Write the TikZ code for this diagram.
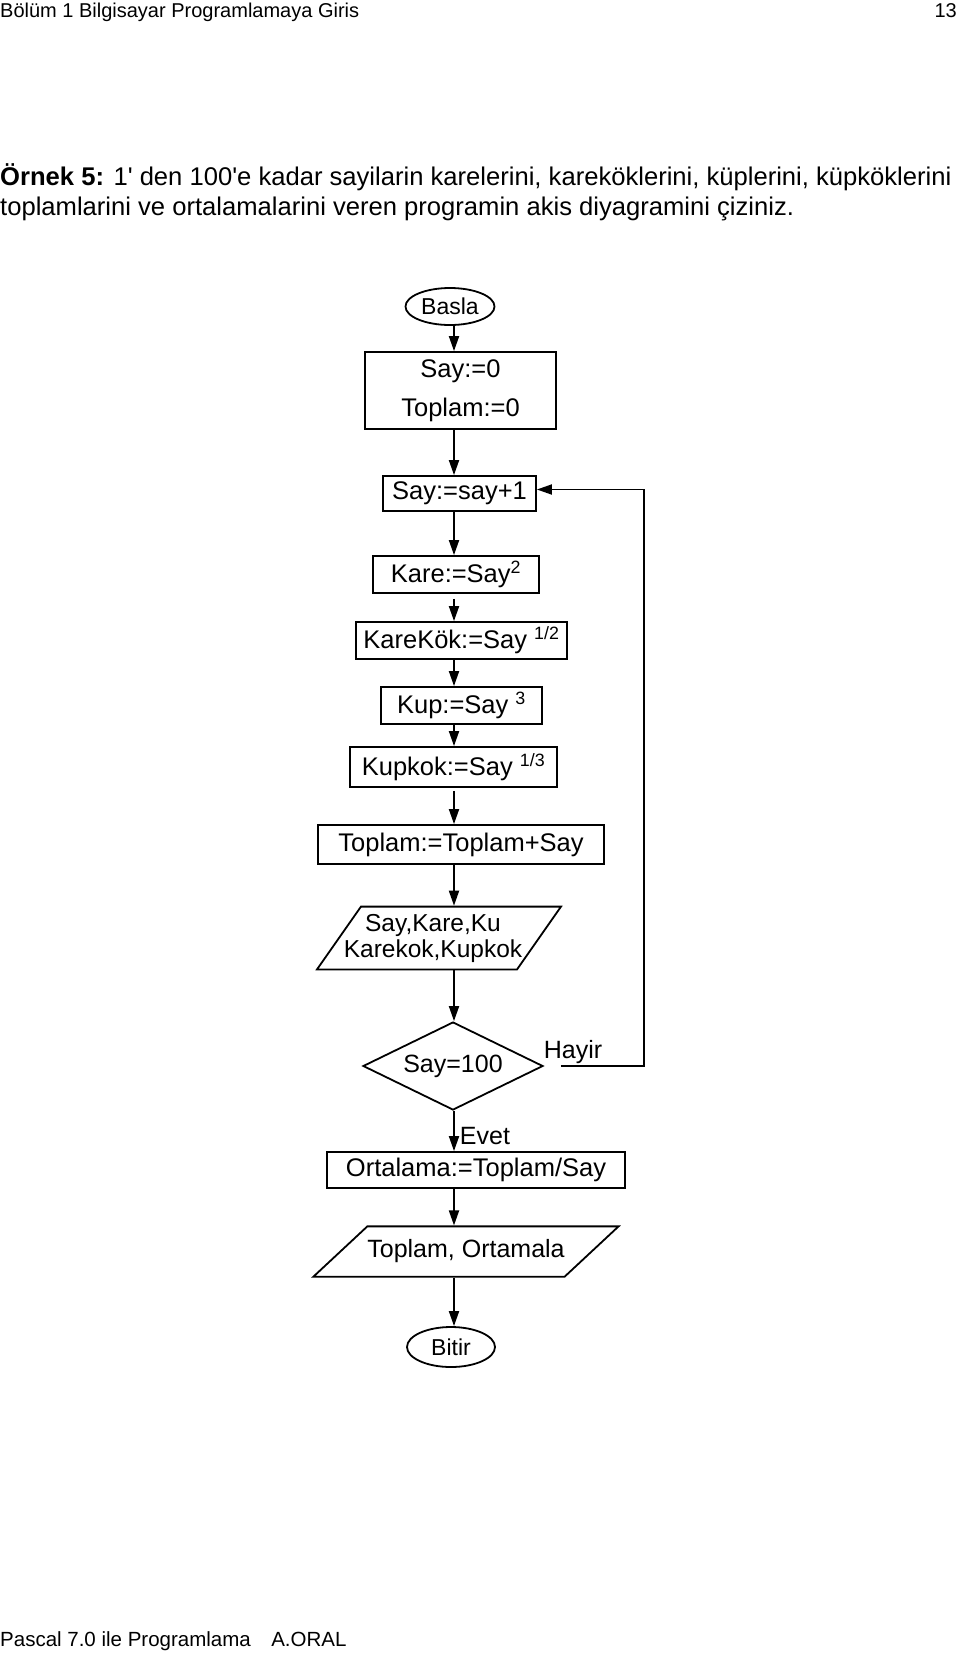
\documentclass[tikz,border=0pt]{standalone}
\usepackage{fontspec}
\setmainfont{Liberation Sans}
\usetikzlibrary{shapes.geometric,arrows.meta}

\begin{document}
\begin{tikzpicture}[x=1pt,y=-1pt,
  kutu/.style={draw,line width=1.8pt,inner sep=0pt,align=center,font=\fontsize{25.5}{39}\selectfont},
  uc/.style={draw,ellipse,line width=1.8pt,inner sep=0pt,font=\fontsize{23}{26}\selectfont},
  girdi/.style={draw,trapezium,trapezium stretches body,line width=1.8pt,inner xsep=0pt,align=center,font=\fontsize{25}{26}\selectfont},
  karar/.style={draw,diamond,aspect=2,line width=1.8pt,inner sep=0pt,font=\fontsize{25}{26}\selectfont},
  ok/.style={line width=1.8pt,-{Triangle[length=15pt,width=10pt]}},
  yazi/.style={inner sep=0pt,font=\fontsize{25.6}{30}\selectfont}]
\useasboundingbox (0,0) rectangle (960,1655);

% sayfa basi ve soru
\node[yazi,font=\fontsize{20}{24}\selectfont,anchor=base west] (baslik) at (0,17) {Bölüm 1 Bilgisayar Programlamaya Giris};
\node[yazi,font=\fontsize{20}{24}\selectfont,anchor=base east] (sayfa) at (957,17) {13};
\node[yazi,anchor=base west] (satir1) at (0,185) {\textbf{Örnek 5:} 1\textquotesingle{} den 100\textquotesingle e kadar sayilarin karelerini, kareköklerini, küplerini, küpköklerini};
\node[yazi,anchor=base west] (satir2) at (0,215) {toplamlarini ve ortalamalarini veren programin akis diyagramini çiziniz.};

% akis diyagrami
\coordinate (eksen) at (454,0);
\node[uc,minimum width=89pt,minimum height=37pt] (basla) at (450,306.5) {Basla};
\node[kutu,minimum width=191pt,minimum height=77pt] (ilk) at (460.5,390.5) {Say:=0\\Toplam:=0};
\node[kutu,minimum width=153pt,minimum height=35pt] (artir) at (459.5,493.5) {Say:=say+1};
\node[kutu,minimum width=166pt,minimum height=37pt] (kare) at (456,574.5) {Kare:=Say\textsuperscript{2}};
\node[kutu,minimum width=211pt,minimum height=37pt] (karekok) at (461.5,640.5) {KareKök:=Say \textsuperscript{1/2}};
\node[kutu,minimum width=161pt,minimum height=37pt] (kup) at (461.5,705.5) {Kup:=Say \textsuperscript{3}};
\node[kutu,minimum width=207pt,minimum height=40pt] (kupkok) at (453.5,767) {Kupkok:=Say \textsuperscript{1/3}};
\node[kutu,minimum width=286pt,minimum height=39pt] (toplam) at (461,844.5) {Toplam:=Toplam+Say};
\node[girdi,font=\fontsize{24.5}{26}\selectfont,trapezium left angle=55,trapezium right angle=125,inner ysep=7.3pt,inner xsep=-18pt,minimum width=244pt] (yaz1) at (439,938) {Say,Kare,Ku\hspace*{12pt}\\Karekok,Kupkok\hspace*{12pt}};
\node[karar,minimum width=180pt,minimum height=88pt] (kontrol) at (453,1066) {Say=100};
\node[kutu,minimum width=298pt,minimum height=36pt] (ortalama) at (476,1170) {Ortalama:=Toplam/Say};
\node[girdi,trapezium left angle=43,trapezium right angle=137,inner ysep=13.5pt,minimum width=302pt] (yaz2) at (466,1251.5) {Toplam, Ortamala};
\node[uc,minimum width=88pt,minimum height=40pt] (bitir) at (451,1347) {Bitir};

\foreach \a/\b/\k in {basla/ilk/0,ilk/artir/0,artir/kare/0,kare/karekok/5,karekok/kup/0,kup/kupkok/0,kupkok/toplam/3,toplam/yaz1/0,yaz1/kontrol/0,kontrol/ortalama/0,ortalama/yaz2/0,yaz2/bitir/0}{
  \draw[ok,shorten <=\k pt] (\a.south -| eksen)--(\b.north -| eksen);
}

% geri donus
\draw[ok] ([xshift=17pt]kontrol.east)--++(83,0) |- ([yshift=4pt]artir.east);
\node[yazi,font=\fontsize{25}{30}\selectfont] (hayir) at (573,1052) {Hayir};
\node[yazi,font=\fontsize{25}{30}\selectfont] (evet) at (485,1136) {Evet};

\node[yazi,font=\fontsize{20.5}{24}\selectfont,anchor=base west] (alt) at (0,1646) {Pascal 7.0 ile Programlama\hspace{1em}A.ORAL};

\end{tikzpicture}
\end{document}
